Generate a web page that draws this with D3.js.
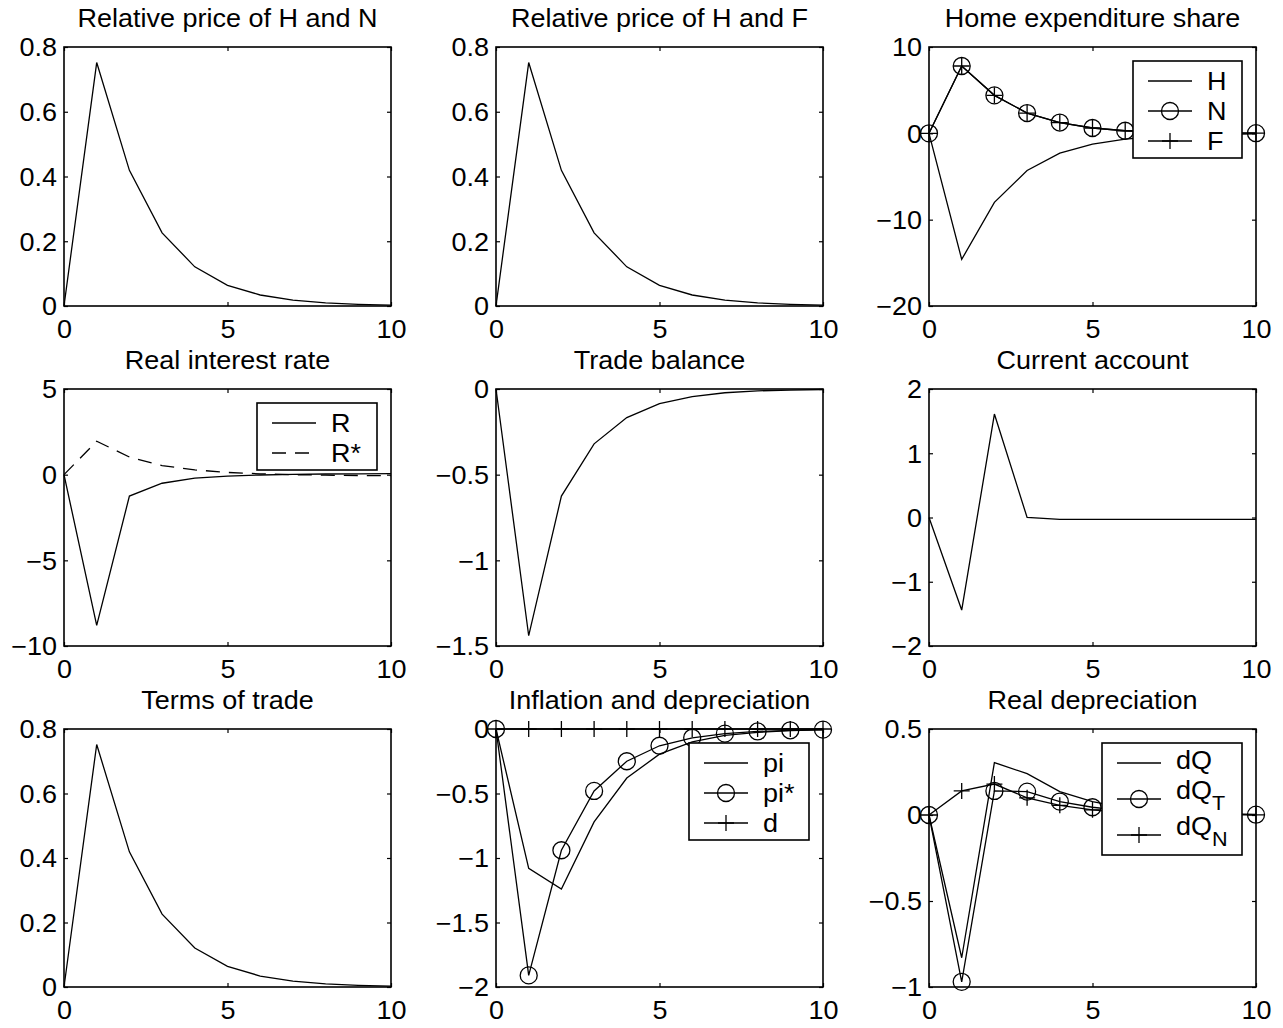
<!DOCTYPE html>
<html><head><meta charset="utf-8">
<script src="https://cdn.jsdelivr.net/npm/d3@7"></script>
<style>body{margin:0;background:#fff}text{font-family:"Liberation Sans",Arial,Helvetica,sans-serif;fill:#000}</style>
</head><body>
<svg id="chart" width="1283" height="1028"></svg>
<script>
// ---------- data ----------
const periods = [0,1,2,3,4,5,6,7,8,9,10];
const xTicks = [0,5,10];

const titles = ["Relative price of H and N","Relative price of H and F","Home expenditure share",
  "Real interest rate","Trade balance","Current account",
  "Terms of trade","Inflation and depreciation","Real depreciation"];

const relPriceHN = [0,0.752,0.419,0.226,0.121,0.064,0.034,0.018,0.0095,0.005,0.0027];
const relPriceHF = [0,0.752,0.419,0.226,0.121,0.064,0.034,0.018,0.0095,0.005,0.0027];
const expShareH = [0,-14.6,-8.0,-4.3,-2.3,-1.25,-0.68,-0.37,-0.2,-0.11,-0.06];
const expShareN = [0,7.8,4.4,2.35,1.25,0.62,0.3,0.16,0.08,0.04,0.02];
const expShareF = [0,7.8,4.4,2.35,1.25,0.62,0.3,0.16,0.08,0.04,0.02];
const rateR     = [0,-8.8,-1.25,-0.5,-0.2,-0.08,-0.02,0.02,0.04,0.05,0.06];
const rateRstar = [0,1.95,1.03,0.53,0.28,0.13,0.05,0.0,-0.03,-0.05,-0.06];
const tradeBalance = [0,-1.44,-0.625,-0.32,-0.167,-0.086,-0.044,-0.022,-0.011,-0.006,-0.003];
const currentAccount = [0,-1.44,1.61,0.0,-0.03,-0.03,-0.03,-0.03,-0.03,-0.03,-0.03];
const termsOfTrade = [0,0.752,0.419,0.226,0.121,0.064,0.034,0.018,0.0095,0.005,0.0027];
const inflPi     = [0,-1.08,-1.24,-0.72,-0.38,-0.195,-0.1,-0.05,-0.026,-0.013,-0.007];
const inflPiStar = [0,-1.91,-0.94,-0.48,-0.25,-0.13,-0.068,-0.036,-0.019,-0.01,-0.005];
const deprD      = [0,0,0,0,0,0,0,0,0,0,0];
const realDepQ  = [0,-0.83,0.305,0.24,0.136,0.078,0.042,0.022,0.012,0.006,0.003];
const realDepQT = [0,-0.97,0.14,0.136,0.078,0.045,0.024,0.013,0.007,0.004,0.002];
const realDepQN = [0,0.14,0.18,0.10,0.056,0.03,0.016,0.009,0.005,0.002,0.001];

const yTicksRel = [0,0.2,0.4,0.6,0.8];
const yTicksExp = [-20,-10,0,10];
const yTicksRate = [-10,-5,0,5];
const yTicksTB = [-1.5,-1,-0.5,0];
const yTicksCA = [-2,-1,0,1,2];
const yTicksInfl = [-2,-1.5,-1,-0.5,0];
const yTicksRD = [-1,-0.5,0,0.5];

const legendExp = [{t:"H"},{t:"N"},{t:"F"}];
const legendRate = [{t:"R"},{t:"R*"}];
const legendInfl = [{t:"pi"},{t:"pi*"},{t:"d"}];
const legendRD = [{t:"dQ"},{t:"dQ",sub:"T"},{t:"dQ",sub:"N"}];

// ---------- layout ----------
const K = 1.08;          // horizontal text stretch
const FS = 25;           // font size
const LW = 1.3;          // data line width
const colX = [[64,391],[496,823],[929,1256]];
const rowY = [[47,306],[389,646],[729,987]];

const panels = [
  {ticks:yTicksRel, series:[{v:relPriceHN}]},
  {ticks:yTicksRel, series:[{v:relPriceHF}]},
  {ticks:yTicksExp, series:[{v:expShareH},{v:expShareN,m:"o"},{v:expShareF,m:"+"}],
     legend:{items:legendExp, w:109, spacing:30}},
  {ticks:yTicksRate, series:[{v:rateR},{v:rateRstar,dash:"14,9"}],
     legend:{items:legendRate, w:120, spacing:30}},
  {ticks:yTicksTB, series:[{v:tradeBalance}]},
  {ticks:yTicksCA, series:[{v:currentAccount}]},
  {ticks:yTicksRel, series:[{v:termsOfTrade}]},
  {ticks:yTicksInfl, series:[{v:inflPi},{v:inflPiStar,m:"o"},{v:deprD,m:"+"}],
     legend:{items:legendInfl, w:120, spacing:30}},
  {ticks:yTicksRD, series:[{v:realDepQ},{v:realDepQT,m:"o"},{v:realDepQN,m:"+"}],
     legend:{items:legendRD, w:140, spacing:36}}
];

const fmt = v => (v < 0 ? "\u2212" : "") + Math.abs(v);
const svg = d3.select("#chart");
svg.append("rect").attr("width",1283).attr("height",1028).attr("fill","#fff");

function drawMarker(g, type, cx, cy) {
  if (type === "o") {
    g.append("circle").attr("cx",cx).attr("cy",cy).attr("r",8.5)
      .attr("fill","none").attr("stroke","#000").attr("stroke-width",LW);
  } else if (type === "+") {
    g.append("path").attr("d",`M${cx-8},${cy}H${cx+8}M${cx},${cy-8}V${cy+8}`)
      .attr("stroke","#000").attr("stroke-width",LW).attr("fill","none");
  }
}

panels.forEach((p, i) => {
  const [x0,x1] = colX[i % 3];
  const [y0,y1] = rowY[Math.floor(i / 3)];
  const x = d3.scaleLinear().domain([0,10]).range([x0,x1]);
  const y = d3.scaleLinear().domain([d3.min(p.ticks), d3.max(p.ticks)]).range([y1,y0]);
  const g = svg.append("g");

  // axes (inward ticks on all four sides)
  const ax = [
    {a:d3.axisBottom(x).tickValues(xTicks), t:`translate(0,${y1})`, labels:true, side:"b"},
    {a:d3.axisTop(x).tickValues(xTicks), t:`translate(0,${y0})`, labels:false},
    {a:d3.axisLeft(y).tickValues(p.ticks), t:`translate(${x0},0)`, labels:true, side:"l"},
    {a:d3.axisRight(y).tickValues(p.ticks), t:`translate(${x1},0)`, labels:false}
  ];
  ax.forEach(o => {
    o.a.tickSizeInner(-4).tickSizeOuter(0).tickFormat(o.labels ? fmt : () => "");
    const ag = g.append("g").attr("transform", o.t).call(o.a);
    ag.select(".domain").remove();
    ag.selectAll(".tick line").attr("stroke","#000").attr("stroke-width",1.2);
    ag.selectAll("text").attr("font-size",FS).attr("font-family",null).attr("fill","#000");
    if (o.side === "b") {
      ag.selectAll("text").attr("y",0).attr("dy",0)
        .attr("transform",`translate(0,${32}) scale(${K},1)`);
    } else if (o.side === "l") {
      ag.selectAll("text").attr("x",0).attr("dy","0.35em")
        .attr("transform",`translate(-7,0) scale(${K},1)`);
    }
  });

  // series
  p.series.forEach(s => {
    const line = d3.line().x((d,j) => x(periods[j])).y(d => y(d));
    g.append("path").attr("d", line(s.v)).attr("fill","none").attr("stroke","#000")
      .attr("stroke-width",LW).attr("stroke-dasharray", s.dash || null)
      .attr("stroke-linejoin","miter");
    if (s.m) s.v.forEach((d,j) => drawMarker(g, s.m, x(periods[j]), y(d)));
  });

  // box
  g.append("rect").attr("x",x0).attr("y",y0).attr("width",x1-x0).attr("height",y1-y0)
    .attr("fill","none").attr("stroke","#000").attr("stroke-width",1.6);

  // title
  g.append("text").attr("text-anchor","middle").attr("font-size",FS)
    .attr("transform",`translate(${(x0+x1)/2},${y0-20}) scale(${K},1)`).text(titles[i]);

  // legend
  if (p.legend) {
    const L = p.legend, n = L.items.length;
    const hasSub = L.items.some(d => d.sub);
    const h = 20 + (n-1)*L.spacing + (hasSub ? 20 : 17);
    const lx = x1 - 14 - L.w, ly = y0 + 14;
    const lg = g.append("g");
    lg.append("rect").attr("x",lx).attr("y",ly).attr("width",L.w).attr("height",h)
      .attr("fill","#fff").attr("stroke","#000").attr("stroke-width",1.6);
    L.items.forEach((it, j) => {
      const s = p.series[j];
      const ry = ly + 20 + j*L.spacing;
      lg.append("line").attr("x1",lx+15).attr("x2",lx+59).attr("y1",ry).attr("y2",ry)
        .attr("stroke","#000").attr("stroke-width",LW).attr("stroke-dasharray", s.dash || null);
      if (s.m) drawMarker(lg, s.m, lx+37, ry);
      const by = it.sub ? ry : (hasSub ? ry + 6 : ry + 9);
      const t = lg.append("text").attr("font-size",FS)
        .attr("transform",`translate(${lx+74},${by}) scale(${K},1)`);
      t.append("tspan").text(it.t);
      if (it.sub) t.append("tspan").attr("font-size",20).attr("dy",11).text(it.sub);
    });
  }
});
</script>
</body></html>
